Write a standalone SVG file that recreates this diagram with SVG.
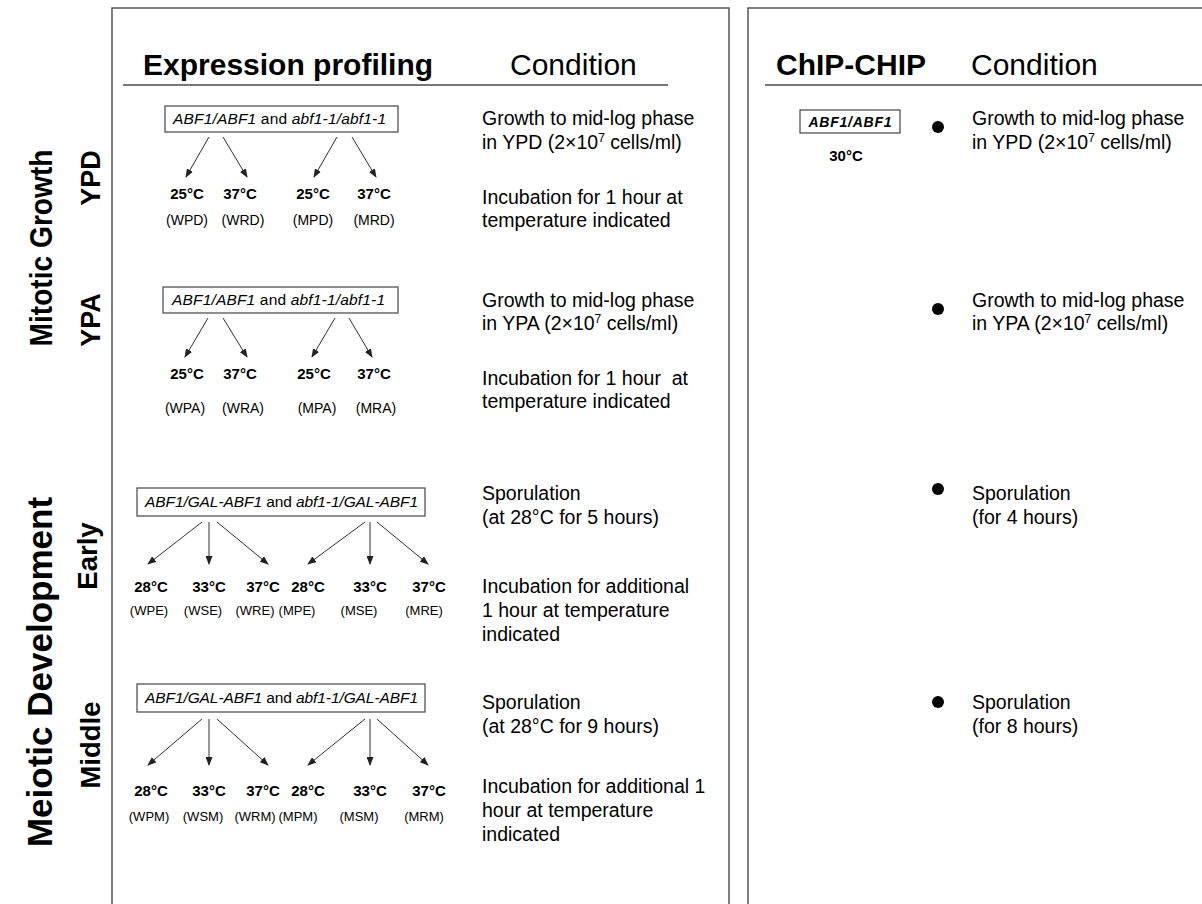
<svg xmlns="http://www.w3.org/2000/svg" width="1202" height="904" viewBox="0 0 1202 904">
  <style>
    text { font-family: "Liberation Sans", Arial, sans-serif; fill: #000; }
    .hdrB { font-size: 30px; font-weight: bold; }
    .hdr { font-size: 30px; }
    .side { font-weight: bold; }
    .cond { font-size: 19.5px; }
    .sup { font-size: 12px; }
    .geno { font-size: 15.5px; }
    .geno .it { font-style: italic; }
    .temp { font-size: 15px; font-weight: bold; text-anchor: middle; }
    .code { font-size: 14px; text-anchor: middle; }
    .code.sm { font-size: 13px; }
    .panel { fill: none; stroke: #555; stroke-width: 1.5; }
    .rule { stroke: #777; stroke-width: 2; }
    .box { fill: #fff; stroke: #444; stroke-width: 1.2; }
    .conn line { stroke: #333; stroke-width: 1; marker-end: url(#arrow); }
    .dot { fill: #000; }
  </style>
  <defs>
    <marker id="arrow" markerUnits="userSpaceOnUse" markerWidth="9" markerHeight="7" refX="8" refY="3.5" orient="auto">
      <path d="M0,0 L9,3.5 L0,7 z" fill="#222"/>
    </marker>
  </defs>

  <rect width="1202" height="904" fill="#fff"/>

  <!-- panel frames (open at the bottom / right edge) -->
  <g id="frames">
    <rect class="panel" x="112" y="8" width="617" height="940"/>
    <rect class="panel" x="748" y="8" width="480" height="940"/>
    <line class="rule" x1="123" y1="85" x2="668" y2="85"/>
    <line class="rule" x1="765" y1="85" x2="1202" y2="85"/>
  </g>

  <!-- column headings -->
  <g id="headings">
    <text class="hdrB" x="143" y="75">Expression profiling</text>
    <text class="hdr" x="510" y="75">Condition</text>
    <text class="hdrB" x="776" y="75">ChIP-CHIP</text>
    <text class="hdr" x="971" y="75">Condition</text>
  </g>

  <!-- row labels -->
  <g id="row-labels" class="side">
    <text transform="translate(52,248) rotate(-90)" text-anchor="middle" font-size="32" textLength="197" lengthAdjust="spacingAndGlyphs">Mitotic Growth</text>
    <text transform="translate(100,178) rotate(-90)" text-anchor="middle" font-size="27">YPD</text>
    <text transform="translate(100,320) rotate(-90)" text-anchor="middle" font-size="27">YPA</text>
    <text transform="translate(52,672) rotate(-90)" text-anchor="middle" font-size="35">Meiotic Development</text>
    <text transform="translate(97,556) rotate(-90)" text-anchor="middle" font-size="27.5">Early</text>
    <text transform="translate(100,745) rotate(-90)" text-anchor="middle" font-size="27.5">Middle</text>
  </g>

  <!-- YPD strains -->
  <g id="ypd-strains">
    <rect class="box" x="165" y="106" width="233" height="26"/>
    <text class="geno" x="173" y="124" textLength="213"><tspan class="it">ABF1/ABF1</tspan> and <tspan class="it">abf1-1/abf1-1</tspan></text>
  </g>
  <g id="ypd-samples">
    <text class="temp" x="187" y="199">25°C</text>
    <text class="temp" x="240" y="199">37°C</text>
    <text class="temp" x="313" y="199">25°C</text>
    <text class="temp" x="374" y="199">37°C</text>
    <text class="code" x="187" y="225">(WPD)</text>
    <text class="code" x="243" y="225">(WRD)</text>
    <text class="code" x="313" y="225">(MPD)</text>
    <text class="code" x="374" y="225">(MRD)</text>
  </g>
  <g id="ypd-condition" class="cond">
    <text x="482" y="125">Growth to mid-log phase</text>
    <text x="482" y="149">in YPD (2×10<tspan class="sup" dy="-7">7</tspan><tspan dy="7"> cells/ml)</tspan></text>
    <text x="482" y="204">Incubation for 1 hour at</text>
    <text x="482" y="227">temperature indicated</text>
  </g>

  <!-- YPA strains -->
  <g id="ypa-strains">
    <rect class="box" x="163" y="287" width="235" height="26"/>
    <text class="geno" x="172" y="305" textLength="213"><tspan class="it">ABF1/ABF1</tspan> and <tspan class="it">abf1-1/abf1-1</tspan></text>
  </g>
  <g id="ypa-samples">
    <text class="temp" x="187" y="379">25°C</text>
    <text class="temp" x="240" y="379">37°C</text>
    <text class="temp" x="314" y="379">25°C</text>
    <text class="temp" x="374" y="379">37°C</text>
    <text class="code" x="185" y="413">(WPA)</text>
    <text class="code" x="243" y="413">(WRA)</text>
    <text class="code" x="317" y="413">(MPA)</text>
    <text class="code" x="376" y="413">(MRA)</text>
  </g>
  <g id="ypa-condition" class="cond">
    <text x="482" y="307">Growth to mid-log phase</text>
    <text x="482" y="330">in YPA (2×10<tspan class="sup" dy="-7">7</tspan><tspan dy="7"> cells/ml)</tspan></text>
    <text x="482" y="385" xml:space="preserve">Incubation for 1 hour  at</text>
    <text x="482" y="408">temperature indicated</text>
  </g>

  <!-- early meiosis strains -->
  <g id="early-strains">
    <rect class="box" x="137" y="488" width="288" height="28"/>
    <text class="geno" x="145" y="507" textLength="273"><tspan class="it">ABF1/GAL-ABF1</tspan> and <tspan class="it">abf1-1/GAL-ABF1</tspan></text>
  </g>
  <g id="early-samples">
    <text class="temp" x="151" y="592">28°C</text>
    <text class="temp" x="209" y="592">33°C</text>
    <text class="temp" x="263" y="592">37°C</text>
    <text class="temp" x="308" y="592">28°C</text>
    <text class="temp" x="370" y="592">33°C</text>
    <text class="temp" x="429" y="592">37°C</text>
    <text class="code sm" x="149" y="615">(WPE)</text>
    <text class="code sm" x="203" y="615">(WSE)</text>
    <text class="code sm" x="255" y="615">(WRE)</text>
    <text class="code sm" x="297" y="615">(MPE)</text>
    <text class="code sm" x="359" y="615">(MSE)</text>
    <text class="code sm" x="424" y="615">(MRE)</text>
  </g>
  <g id="early-condition" class="cond">
    <text x="482" y="500">Sporulation</text>
    <text x="482" y="524">(at 28°C for 5 hours)</text>
    <text x="482" y="593">Incubation for additional</text>
    <text x="482" y="617">1 hour at temperature</text>
    <text x="482" y="641">indicated</text>
  </g>

  <!-- middle meiosis strains -->
  <g id="middle-strains">
    <rect class="box" x="137" y="684" width="288" height="28"/>
    <text class="geno" x="145" y="703" textLength="273"><tspan class="it">ABF1/GAL-ABF1</tspan> and <tspan class="it">abf1-1/GAL-ABF1</tspan></text>
  </g>
  <g id="middle-samples">
    <text class="temp" x="151" y="796">28°C</text>
    <text class="temp" x="209" y="796">33°C</text>
    <text class="temp" x="263" y="796">37°C</text>
    <text class="temp" x="308" y="796">28°C</text>
    <text class="temp" x="370" y="796">33°C</text>
    <text class="temp" x="429" y="796">37°C</text>
    <text class="code sm" x="149" y="821">(WPM)</text>
    <text class="code sm" x="203" y="821">(WSM)</text>
    <text class="code sm" x="255" y="821">(WRM)</text>
    <text class="code sm" x="298" y="821">(MPM)</text>
    <text class="code sm" x="359" y="821">(MSM)</text>
    <text class="code sm" x="424" y="821">(MRM)</text>
  </g>
  <g id="middle-condition" class="cond">
    <text x="482" y="709">Sporulation</text>
    <text x="482" y="733">(at 28°C for 9 hours)</text>
    <text x="482" y="793">Incubation for additional 1</text>
    <text x="482" y="817">hour at temperature</text>
    <text x="482" y="841">indicated</text>
  </g>

  <!-- ChIP-chip strain -->
  <g id="chip-strain">
    <rect class="box" x="800" y="110" width="100" height="23"/>
    <text x="850" y="127" text-anchor="middle" font-style="italic" font-weight="bold" font-size="14" textLength="83">ABF1/ABF1</text>
    <text class="temp" x="846" y="161" font-size="13.5">30°C</text>
  </g>
  <g id="chip-ypd" class="cond">
    <circle class="dot" cx="938" cy="127" r="6"/>
    <text x="972" y="125">Growth to mid-log phase</text>
    <text x="972" y="149">in YPD (2×10<tspan class="sup" dy="-7">7</tspan><tspan dy="7"> cells/ml)</tspan></text>
  </g>
  <g id="chip-ypa" class="cond">
    <circle class="dot" cx="938" cy="309" r="6"/>
    <text x="972" y="307">Growth to mid-log phase</text>
    <text x="972" y="330">in YPA (2×10<tspan class="sup" dy="-7">7</tspan><tspan dy="7"> cells/ml)</tspan></text>
  </g>
  <g id="chip-early" class="cond">
    <circle class="dot" cx="938" cy="489" r="6"/>
    <text x="972" y="500">Sporulation</text>
    <text x="972" y="524">(for 4 hours)</text>
  </g>
  <g id="chip-middle" class="cond">
    <circle class="dot" cx="938" cy="702" r="6"/>
    <text x="972" y="709">Sporulation</text>
    <text x="972" y="733">(for 8 hours)</text>
  </g>

  <!-- connectors: strain box to temperature shift -->
  <g id="connectors" class="conn">
    <line x1="209" y1="137" x2="186" y2="177"/>
    <line x1="223" y1="137" x2="247" y2="177"/>
    <line x1="337" y1="137" x2="314" y2="177"/>
    <line x1="352" y1="137" x2="376" y2="177"/>

    <line x1="208" y1="318" x2="185" y2="357"/>
    <line x1="223" y1="318" x2="247" y2="357"/>
    <line x1="335" y1="318" x2="312" y2="357"/>
    <line x1="349" y1="318" x2="372" y2="357"/>

    <line x1="202" y1="522" x2="148" y2="564"/>
    <line x1="209" y1="522" x2="209" y2="564"/>
    <line x1="217" y1="522" x2="268" y2="564"/>
    <line x1="365" y1="522" x2="308" y2="564"/>
    <line x1="370" y1="522" x2="370" y2="564"/>
    <line x1="377" y1="522" x2="428" y2="564"/>

    <line x1="202" y1="719" x2="148" y2="765"/>
    <line x1="209" y1="719" x2="209" y2="765"/>
    <line x1="217" y1="719" x2="268" y2="765"/>
    <line x1="365" y1="719" x2="308" y2="765"/>
    <line x1="370" y1="719" x2="370" y2="765"/>
    <line x1="377" y1="719" x2="428" y2="765"/>
  </g>
</svg>
